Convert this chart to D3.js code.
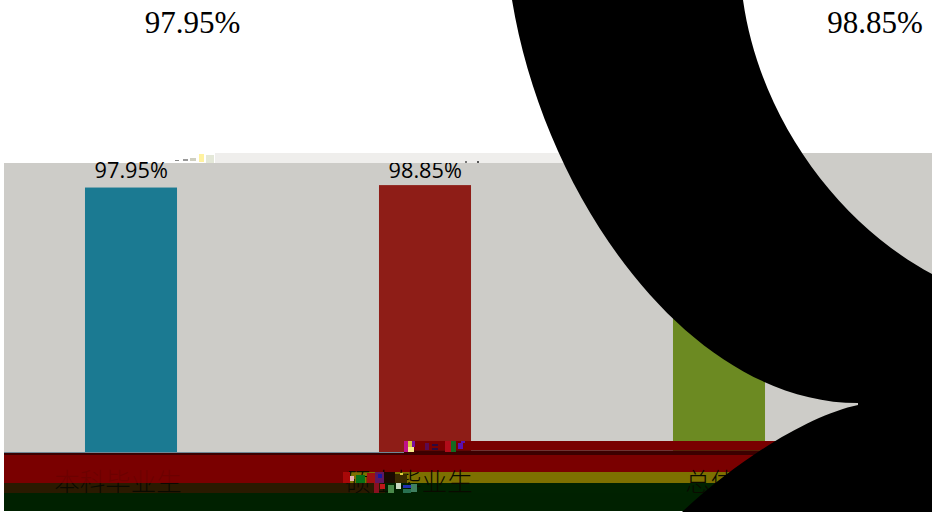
<!DOCTYPE html>
<html><head><meta charset="utf-8">
<script src="https://d3js.org/d3.v7.min.js"></script>
<style>html,body{margin:0;padding:0;background:#fff;overflow:hidden}svg{display:block}</style>
</head><body><svg id="c" width="932" height="512"></svg>
<script>
const categories = ["本科毕业生", "硕士毕业生", "总体毕业生"];
const rates = [97.95, 98.85, 98.4];
const barColors = ["#1b7a92", "#8e1d17", "#6c8a22"];
const floatingLabels = ["97.95%", "98.85%"];

const svg = d3.select("#c");
const x = d3.scaleBand().domain(categories).range([-16, 866]).paddingInner(0.687).paddingOuter(0.3435);
const y = d3.scaleLinear().domain([0, 100]).range([452, 182]);
const rect = (g, a, b, w, h, f, o) => g.append("rect").attr("x", a).attr("y", b).attr("width", w).attr("height", h).attr("fill", f).attr("opacity", o === undefined ? 1 : o);

// plot background
rect(svg, 4, 163, 928, 290, "#cdccc8");
rect(svg, 600, 153, 332, 10, "#cdccc8");

// bars
svg.selectAll("rect.bar").data(categories).join("rect").attr("class", "bar")
  .attr("x", d => x(d)).attr("width", x.bandwidth())
  .attr("y", (d, i) => y(rates[i])).attr("height", (d, i) => y(0) - y(rates[i]))
  .attr("fill", (d, i) => barColors[i]);

// value labels
svg.selectAll("text.val").data(categories).join("text").attr("class", "val")
  .attr("x", d => x(d) + x.bandwidth() / 2 + 0.2)
  .attr("y", (d, i) => y(rates[i]) - 9.5 + (i === 1 ? 2.5 : 0))
  .attr("text-anchor", "middle").attr("font-family", "'Open Sans'").attr("font-size", 21.7).attr("fill", "#000")
  .text((d, i) => rates[i].toFixed(2) + "%");

// strip over the label tops
rect(svg, 215, 153, 385, 10, "#efeeec");

// corrupted bands
const bands = [
  [4, 452, 928, 1, "#6f8795"],
  [4, 453, 928, 2, "#3c0000"],
  [4, 455, 928, 28, "#7a0000"],
  [4, 483, 928, 10, "#2a1a00"],
  [4, 493, 928, 18, "#002200"],
  [404, 441, 528, 9.5, "#790000"],
  [404, 450.5, 528, 2.5, "#3c0000"],
  [345, 472, 587, 11, "#7d7000"],
  [385, 483, 547, 10, "#002200"]
];
bands.forEach(b => rect(svg, b[0], b[1], b[2], b[3], b[4]));
rect(svg, 4, 472, 345, 11, "#7a0000");

// axis labels
const labelY = 491;
const labelX = [118, 409, 749];
svg.selectAll("text.cat").data(categories).join("text").attr("class", "cat")
  .attr("x", (d, i) => labelX[i]).attr("y", labelY)
  .attr("text-anchor", "middle").attr("font-family", "'Noto Sans CJK SC'").attr("font-weight", 300).attr("font-size", 25.5).attr("fill", "#0a0a00")
  .text(d => d);
rect(svg, 4, 455, 345, 28, "#7a0000", 0.88);
rect(svg, 4, 493, 928, 18, "#002200", 0.75);

// corrupted fragments
const fragments = [
  [404, 441, 4, 11, "#c0108a"], [408, 441, 4, 6, "#d7c63a"], [408, 447, 6, 5, "#f6e98a"], [412, 441, 3, 6, "#7a10a0"],
  [425, 443, 4, 7, "#5b0a50"], [432, 444, 6, 2, "#2a0a40"], [432, 448, 6, 2, "#2a0a40"], [445, 441, 6, 11, "#b20c1a"],
  [451, 441, 5, 11, "#146a20"], [458, 443, 5, 6, "#5a10b0"], [461, 441, 4, 2, "#5a10b0"],
  [343, 472, 7, 11, "#a80808"], [350, 476, 4, 5, "#e8b0b0"], [356, 475, 9, 8, "#087018"], [367, 473, 8, 10, "#a01010"],
  [375, 472, 10, 11, "#601860"], [378, 474, 4, 4, "#1818a0"], [384, 472, 11, 11, "#1a0a00"], [395, 474, 12, 9, "#3a2a00"],
  [400, 473, 3, 2, "#e0d040"], [374, 483, 5, 10, "#8a1020"], [380, 484, 5, 5, "#c01818"], [388, 485, 6, 8, "#4a8a4a"],
  [396, 483, 5, 6, "#c8d8c0"], [403, 485, 8, 3, "#2030b0"], [411, 484, 6, 8, "#408060"], [403, 489, 8, 4, "#287050"],
  [175, 160, 4, 1, "#888"], [183, 159, 5, 2, "#999"], [190, 158, 6, 3, "#cfcfc0"], [199, 154, 5, 8, "#fff2a0"], [206, 155, 8, 8, "#e4e8d8"],
  [465, 161, 2, 2, "#777"], [477, 161, 2, 2, "#555"]
];
fragments.forEach(f => rect(svg, f[0], f[1], f[2], f[3], f[4]));

// large floating labels
const floatX = [192.5, 875];
svg.selectAll("text.big").data(floatingLabels).join("text").attr("class", "big")
  .attr("x", (d, i) => floatX[i]).attr("y", 32.5)
  .attr("text-anchor", "middle").attr("font-family", "'Liberation Serif'").attr("font-size", 31).attr("fill", "#000")
  .text(d => d);

// black overlay shape
svg.append("path").attr("fill", "#000")
  .attr("d", "M512,0 C545,200 690,403 858,403 L858,405 C810,415 740,458 682,512 L932,512 L932,274 C840,225 760,120 743,0 Z");

// page edge below the bands
rect(svg, 0, 511, 682, 1, "#fff");
</script></body></html>
